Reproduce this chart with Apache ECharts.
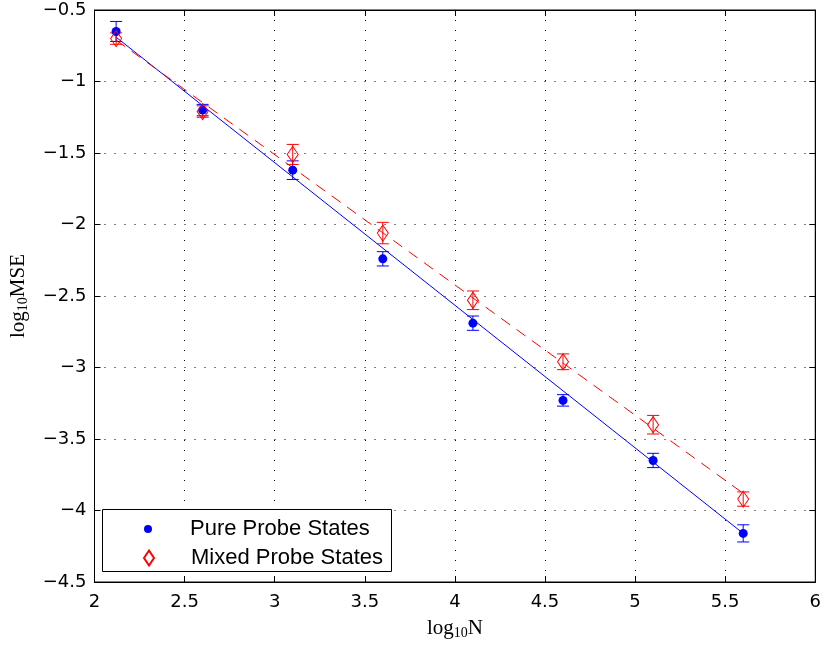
<!DOCTYPE html>
<html>
<head>
<meta charset="utf-8">
<script src="https://cdn.jsdelivr.net/npm/echarts@6/dist/echarts.min.js"></script>
<style>
  html, body { margin: 0; padding: 0; background: #fff; }
  #main { width: 824px; height: 647px; }
</style>
</head>
<body>
<div id="main"></div>
<script>
// log10 N positions
var xs = [2.12, 2.6, 3.1, 3.6, 4.1, 4.6, 5.1, 5.6];
// pure probe states
var pureMse = [-0.65, -1.20, -1.62, -2.24, -2.69, -3.23, -3.65, -4.16];
var pureErr = [0.07, 0.04, 0.065, 0.05, 0.05, 0.04, 0.05, 0.06];
// mixed probe states
var mixedMse = [-0.70, -1.21, -1.51, -2.06, -2.53, -2.96, -3.40, -3.92];
var mixedErr = [0.04, 0.04, 0.07, 0.075, 0.065, 0.055, 0.065, 0.05];
// fitted lines (end points)
var pureFitX = [2.12, 5.6];
var pureFitY = [-0.69, -4.16];
var mixedFitX = [2.12, 5.6];
var mixedFitY = [-0.71, -3.88];

function zip(a, b) {
  return a.map(function (v, i) { return [v, b[i]]; });
}
function errData(y, e) {
  return xs.map(function (x, i) { return [x, y[i] - e[i], y[i] + e[i]]; });
}
function errRender(color) {
  return function (params, api) {
    var lo = api.coord([api.value(0), api.value(1)]);
    var hi = api.coord([api.value(0), api.value(2)]);
    var w = 6;
    var st = { stroke: color, lineWidth: 1 };
    return {
      type: 'group',
      children: [
        { type: 'line', shape: { x1: lo[0], y1: lo[1], x2: hi[0], y2: hi[1] }, style: st },
        { type: 'line', shape: { x1: lo[0] - w, y1: lo[1], x2: lo[0] + w, y2: lo[1] }, style: st },
        { type: 'line', shape: { x1: hi[0] - w, y1: hi[1], x2: hi[0] + w, y2: hi[1] }, style: st }
      ]
    };
  };
}

var fontSans = '"DejaVu Sans", Arial, sans-serif';
var fontLegend = '"Liberation Sans", Arial, sans-serif';
var fontSerif = '"Liberation Serif", "Times New Roman", serif';
var nameRich = {
  a: { fontFamily: fontSerif, fontSize: 21, color: '#000' },
  s: { fontFamily: fontSerif, fontSize: 14, color: '#000', padding: [10, 0, 0, 0] }
};
var tickStyle = { inside: true, length: 6, lineStyle: { color: '#000' } };
var gridDots = { show: true, lineStyle: { color: '#000', type: [1, 9], width: 1 } };

var myChart = echarts.init(document.getElementById('main'));
var option = {
  backgroundColor: '#fff',
  animation: false,
  grid: { left: 91, right: 5, top: 10, bottom: 65, show: true, borderColor: '#000', borderWidth: 1 },
  graphic: [{
    type: 'rect', left: 102, top: 509, z: 90,
    shape: { width: 289, height: 62 },
    style: { fill: '#fff', stroke: '#000', lineWidth: 1 }
  }],
  legend: [{
    left: 144, top: 518, z: 100, padding: 0,
    data: [{ name: 'Pure Probe States', icon: 'circle' }],
    itemWidth: 8, itemHeight: 8,
    textStyle: { fontFamily: fontLegend, fontSize: 22, color: '#000', padding: [0, 0, 0, 33] }
  }, {
    left: 143, top: 547, z: 100, padding: 0,
    data: [{ name: 'Mixed Probe States', icon: 'diamond' }],
    itemWidth: 10, itemHeight: 15,
    textStyle: { fontFamily: fontLegend, fontSize: 22, color: '#000', padding: [0, 0, 0, 32] }
  }],
  xAxis: [{
    type: 'value', min: 2, max: 6, interval: 0.5,
    name: '{a|log}{s|10}{a|N}',
    nameLocation: 'middle', nameGap: 34,
    nameTextStyle: { rich: nameRich },
    axisLine: { lineStyle: { color: '#000' } },
    axisTick: tickStyle,
    axisLabel: { margin: 11, fontFamily: fontSans, fontSize: 18, color: '#000',
      formatter: function (v) { return String(v); } },
    splitLine: gridDots
  }, {
    type: 'value', min: 2, max: 6, interval: 0.5, position: 'top',
    axisLine: { lineStyle: { color: '#000' } },
    axisTick: tickStyle,
    axisLabel: { show: false }, splitLine: { show: false }
  }],
  yAxis: [{
    type: 'value', min: -4.5, max: -0.5, interval: 0.5,
    name: '{a|log}{s|10}{a|MSE}',
    nameLocation: 'middle', nameGap: 64, nameRotate: 90,
    nameTextStyle: { rich: nameRich },
    axisLine: { lineStyle: { color: '#000' } },
    axisTick: tickStyle,
    axisLabel: { margin: 8, fontFamily: fontSans, fontSize: 18, color: '#000',
      formatter: function (v) { return String(v).replace('-', '\u2212'); } },
    splitLine: gridDots
  }, {
    type: 'value', min: -4.5, max: -0.5, interval: 0.5, position: 'right',
    axisLine: { lineStyle: { color: '#000' } },
    axisTick: tickStyle,
    axisLabel: { show: false }, splitLine: { show: false }
  }],
  series: [
    {
      name: 'pureFit', type: 'line', data: zip(pureFitX, pureFitY),
      symbol: 'none', lineStyle: { color: '#0000ff', width: 1 }, z: 2
    },
    {
      name: 'mixedFit', type: 'line', data: zip(mixedFitX, mixedFitY),
      symbol: 'none', lineStyle: { color: '#ff0000', width: 1, type: [11, 8] }, z: 2
    },
    {
      name: 'pureErr', type: 'custom', data: errData(pureMse, pureErr),
      renderItem: errRender('#0000ff'), encode: { x: 0, y: [1, 2] }, z: 3
    },
    {
      name: 'mixedErr', type: 'custom', data: errData(mixedMse, mixedErr),
      renderItem: errRender('#ff0000'), encode: { x: 0, y: [1, 2] }, z: 3
    },
    {
      name: 'Pure Probe States', type: 'scatter', data: zip(xs, pureMse),
      symbol: 'circle', symbolSize: 9,
      itemStyle: { color: '#0000ff', opacity: 1 }, z: 4
    },
    {
      name: 'Mixed Probe States', type: 'scatter', data: zip(xs, mixedMse),
      symbol: 'diamond', symbolSize: [11, 16],
      itemStyle: { color: 'rgba(0,0,0,0)', borderColor: '#ff0000', borderWidth: 1, opacity: 1 }, z: 4
    }
  ]
};
myChart.setOption(option);
</script>
</body>
</html>
